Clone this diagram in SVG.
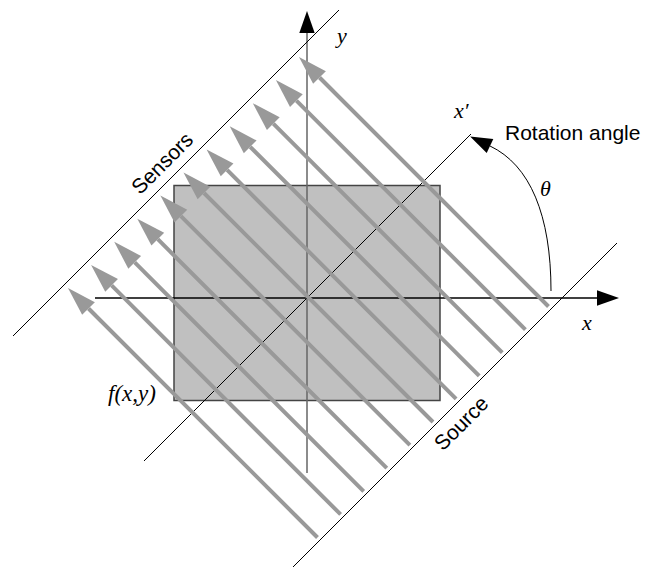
<svg xmlns="http://www.w3.org/2000/svg" width="658" height="568" viewBox="0 0 658 568">
<style>
.thin{stroke:#000;stroke-width:1;fill:none}
.ray{stroke:#999;stroke-width:4;fill:none;marker-end:url(#gh)}
.it{font-family:"Liberation Serif","Times New Roman",serif;font-style:italic;fill:#000;font-size:22px}
.lb{font-family:"Liberation Sans",Arial,sans-serif;font-size:21px;fill:#000}
</style>
<defs>
<marker id="gh" markerUnits="userSpaceOnUse" markerWidth="32" markerHeight="22" refX="0" refY="9" orient="auto" viewBox="0 0 32 18" overflow="visible">
<path d="M0,0 L29,9 L0,18 Z" fill="#999"/>
</marker>
<marker id="bh" markerUnits="userSpaceOnUse" markerWidth="22" markerHeight="16" refX="0" refY="7" orient="auto" viewBox="0 0 20 14" overflow="visible">
<path d="M0,0 L20,7 L0,14 Z" fill="#000"/>
</marker>
</defs>
<g id="object">
<rect x="174" y="185.5" width="266" height="215" fill="#c0c0c0" stroke="#444" stroke-width="1.5"/>
<text class="it" x="108" y="401" style="font-size:23px">f(x,y)</text>
</g>
<g id="axes">
<line x1="307" y1="473" x2="307" y2="33" stroke="#666" stroke-width="1.5" marker-end="url(#bh)"/>
<line x1="95" y1="298" x2="597" y2="298" stroke="#000" stroke-width="1.5" marker-end="url(#bh)"/>
<text class="it" x="337" y="43">y</text>
<text class="it" x="582" y="330">x</text>
</g>
<g id="x-prime">
<line class="thin" x1="144" y1="461" x2="471" y2="134"/>
<text class="it" x="454" y="118">x′</text>
</g>
<g id="sensors">
<line class="thin" x1="13" y1="336" x2="339" y2="10"/>
<text class="lb" x="167.3" y="168.3" text-anchor="middle" transform="rotate(-45 167.3 168.3)">Sensors</text>
</g>
<g id="source">
<line class="thin" x1="293" y1="567" x2="617" y2="243"/>
<text class="lb" x="466.3" y="428.3" text-anchor="middle" transform="rotate(-45 466.3 428.3)">Source</text>
</g>
<g id="rays">
<line class="ray" x1="548.5" y1="306.5" x2="319.5" y2="77.5"/>
<line class="ray" x1="525.4" y1="329.6" x2="296.4" y2="100.6"/>
<line class="ray" x1="502.3" y1="352.7" x2="273.3" y2="123.7"/>
<line class="ray" x1="479.2" y1="375.8" x2="250.2" y2="146.8"/>
<line class="ray" x1="456.1" y1="398.9" x2="227.1" y2="169.9"/>
<line class="ray" x1="433" y1="422" x2="204" y2="193"/>
<line class="ray" x1="409.9" y1="445.1" x2="180.9" y2="216.1"/>
<line class="ray" x1="386.8" y1="468.2" x2="157.8" y2="239.2"/>
<line class="ray" x1="363.7" y1="491.3" x2="134.7" y2="262.3"/>
<line class="ray" x1="340.6" y1="514.4" x2="111.6" y2="285.4"/>
<line class="ray" x1="317.5" y1="537.5" x2="88.5" y2="308.5"/>
</g>
<g id="rotation">
<path d="M551,291 C551,215 530,165 490,146" class="thin" marker-end="url(#bh)"/>
<text class="lb" x="505" y="140">Rotation angle</text>
<text class="it" x="540" y="196">θ</text>
</g>
</svg>
